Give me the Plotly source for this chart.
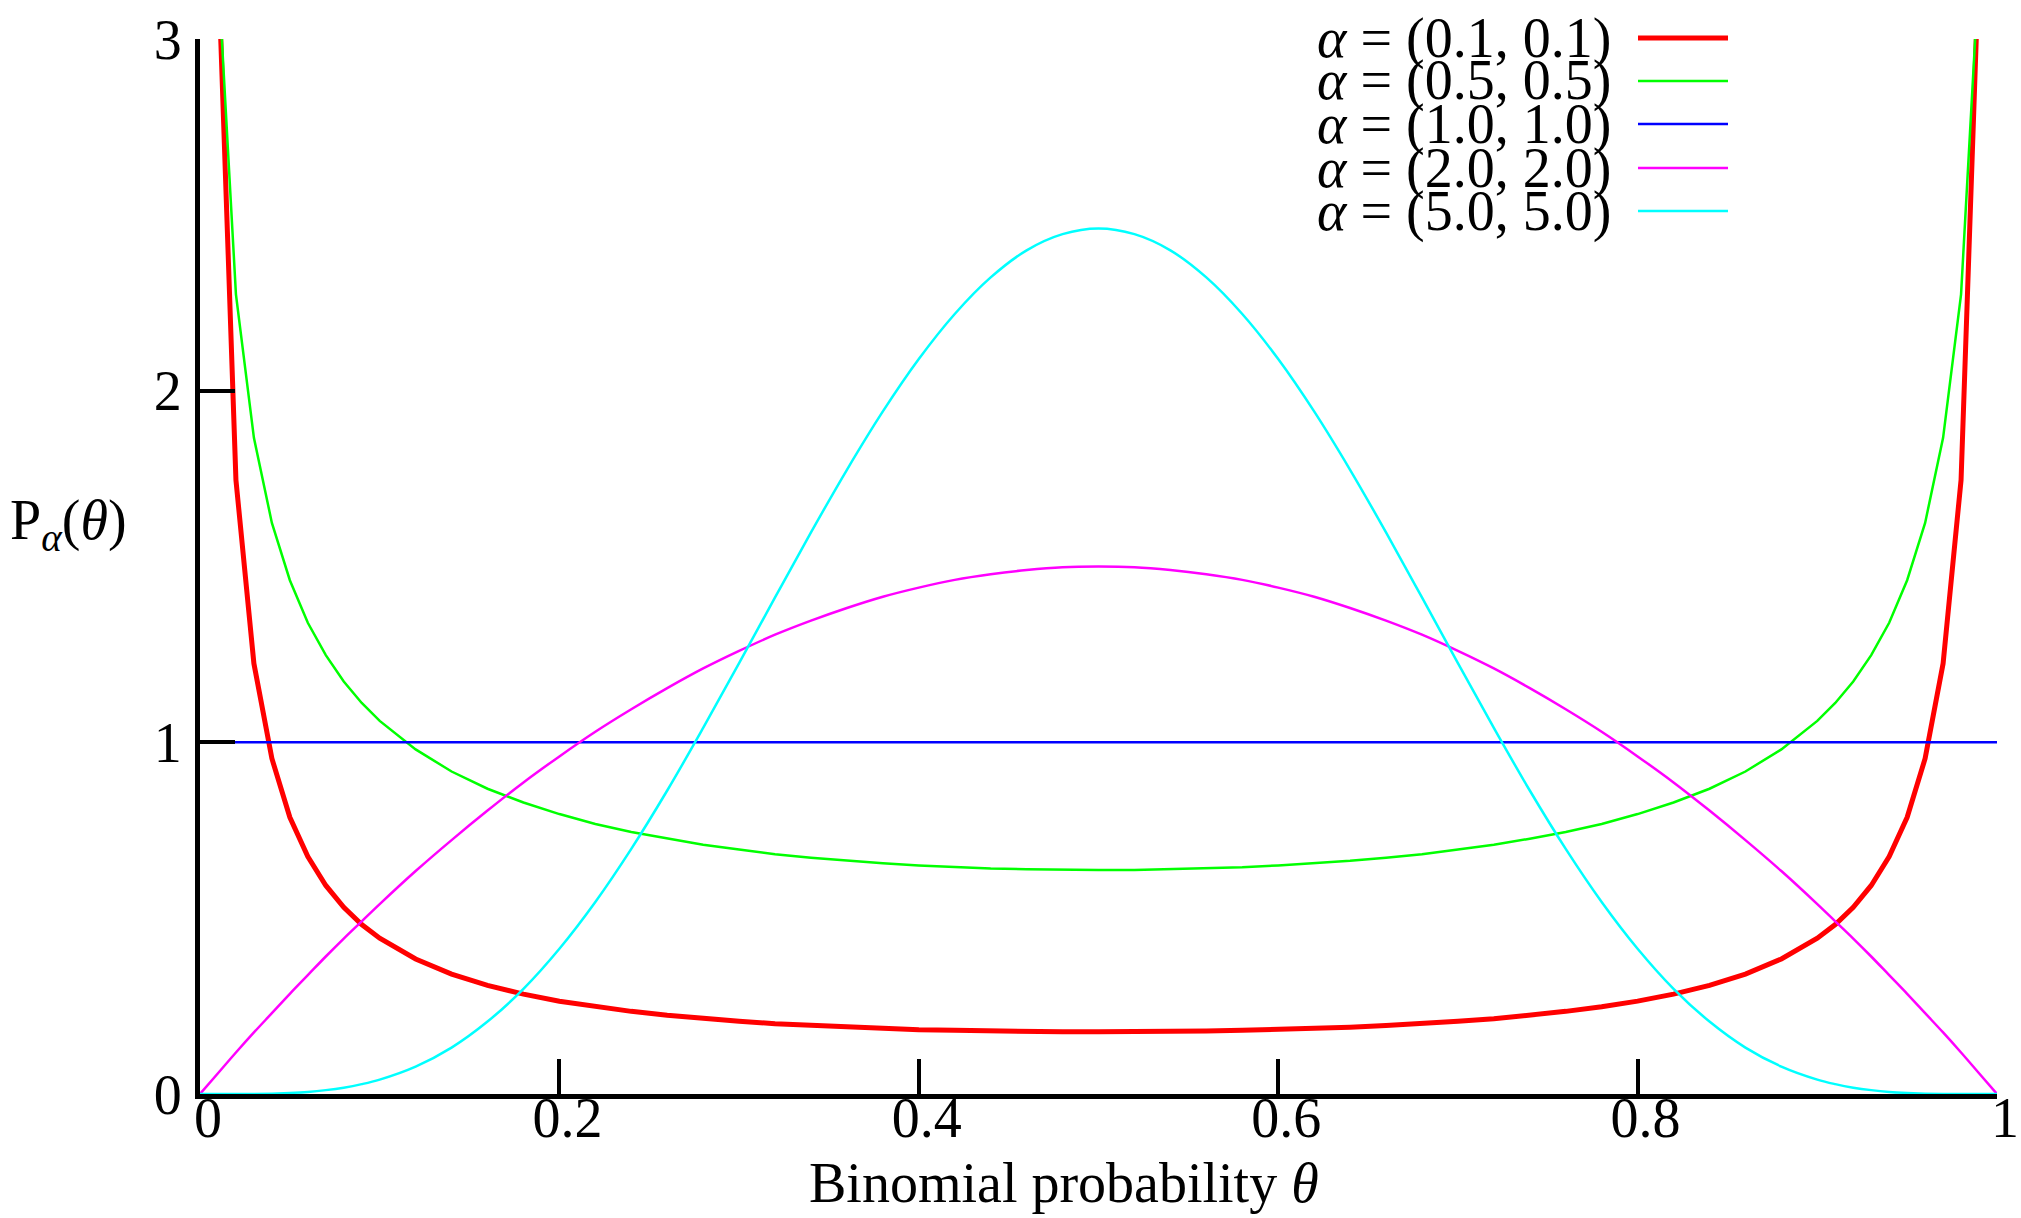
import plotly.graph_objects as go

# ---- data ----
theta = [0, 0.01, 0.02, 0.03, 0.04, 0.05, 0.06, 0.07, 0.08, 0.09, 0.10,
         0.12, 0.14, 0.16, 0.18, 0.20, 0.22, 0.24, 0.26, 0.28, 0.30,
         0.32, 0.34, 0.36, 0.38, 0.40, 0.42, 0.44, 0.46, 0.48, 0.50,
         0.52, 0.54, 0.56, 0.58, 0.60, 0.62, 0.64, 0.66, 0.68, 0.70,
         0.72, 0.74, 0.76, 0.78, 0.80, 0.82, 0.84, 0.86, 0.88, 0.90,
         0.91, 0.92, 0.93, 0.94, 0.95, 0.96, 0.97, 0.98, 0.99, 1.00]

p_01 = [None, 3.230, 1.746, 1.224, 0.954, 0.787, 0.675, 0.593, 0.531, 0.482, 0.443,
        0.384, 0.341, 0.309, 0.284, 0.264, 0.248, 0.235, 0.224, 0.214, 0.207,
        0.200, 0.195, 0.190, 0.186, 0.183, 0.181, 0.179, 0.178, 0.177, 0.177,
        0.177, 0.178, 0.179, 0.181, 0.183, 0.186, 0.190, 0.195, 0.200, 0.207,
        0.214, 0.224, 0.235, 0.248, 0.264, 0.284, 0.309, 0.341, 0.384, 0.443,
        0.482, 0.531, 0.593, 0.675, 0.787, 0.954, 1.224, 1.746, 3.230, None]

p_05 = [None, 3.199, 2.274, 1.866, 1.624, 1.461, 1.340, 1.248, 1.173, 1.112, 1.061,
        0.980, 0.917, 0.868, 0.829, 0.796, 0.768, 0.745, 0.726, 0.709, 0.695,
        0.682, 0.672, 0.663, 0.656, 0.650, 0.645, 0.641, 0.639, 0.637, 0.637,
        0.637, 0.639, 0.641, 0.645, 0.650, 0.656, 0.663, 0.672, 0.682, 0.695,
        0.709, 0.726, 0.745, 0.768, 0.796, 0.829, 0.868, 0.917, 0.980, 1.061,
        1.112, 1.173, 1.248, 1.340, 1.461, 1.624, 1.866, 2.274, 3.199, None]

theta_flat = [0, 1]
p_10 = [1.0, 1.0]

p_20 = [0, 0.059, 0.118, 0.175, 0.230, 0.285, 0.338, 0.391, 0.442, 0.491, 0.540,
        0.634, 0.722, 0.806, 0.886, 0.960, 1.030, 1.094, 1.154, 1.210, 1.260,
        1.306, 1.346, 1.382, 1.414, 1.440, 1.462, 1.478, 1.490, 1.498, 1.500,
        1.498, 1.490, 1.478, 1.462, 1.440, 1.414, 1.382, 1.346, 1.306, 1.260,
        1.210, 1.154, 1.094, 1.030, 0.960, 0.886, 0.806, 0.722, 0.634, 0.540,
        0.491, 0.442, 0.391, 0.338, 0.285, 0.230, 0.175, 0.118, 0.059, 0]

p_50 = [0, 0.000, 0.000, 0.000, 0.001, 0.003, 0.006, 0.011, 0.018, 0.028, 0.041,
        0.078, 0.132, 0.206, 0.299, 0.413, 0.546, 0.697, 0.863, 1.041, 1.225,
        1.412, 1.597, 1.775, 1.941, 2.090, 2.218, 2.322, 2.399, 2.445, 2.461,
        2.445, 2.399, 2.322, 2.218, 2.090, 1.941, 1.775, 1.597, 1.412, 1.225,
        1.041, 0.863, 0.697, 0.546, 0.413, 0.299, 0.206, 0.132, 0.078, 0.041,
        0.028, 0.018, 0.011, 0.006, 0.003, 0.001, 0.000, 0.000, 0.000, 0]

series_names = ["(0.1, 0.1)", "(0.5, 0.5)", "(1.0, 1.0)", "(2.0, 2.0)", "(5.0, 5.0)"]
series_colors = ["#ff0000", "#00ff00", "#0000ff", "#ff00ff", "#00ffff"]
series_widths = [5, 2.5, 2.5, 2.5, 2.5]
series_shapes = ["linear", "linear", "linear", "spline", "spline"]

x_tickvals = [0, 0.2, 0.4, 0.6, 0.8, 1.0]
x_ticktext = ["0", "0.2", "0.4", "0.6", "0.8", "1"]
y_tickvals = [0, 1, 2, 3]
y_ticktext = ["0", "1", "2", "3"]

# ---- figure ----
W, H = 2021, 1218
ML, MR, MT, MB = 200, 24, 39, 124
FONT = "Liberation Serif"
FS = 56

xs = [theta, theta, theta_flat, theta, theta]
ys = [p_01, p_05, p_10, p_20, p_50]

fig = go.Figure()
for x, y, name, col, w, shp in zip(xs, ys, series_names, series_colors,
                                   series_widths, series_shapes):
    fig.add_trace(go.Scatter(x=x, y=y, mode="lines", name=name,
                             line=dict(color=col, width=w, shape=shp),
                             showlegend=False, hoverinfo="skip"))

axis_common = dict(showline=True, linewidth=5, linecolor="black",
                   ticks="inside", ticklen=35, tickwidth=4, tickcolor="black",
                   showgrid=False, zeroline=False, mirror=False, automargin=False,
                   tickfont=dict(family=FONT, size=FS, color="black"))

fig.update_xaxes(range=[0, 1], tickvals=x_tickvals, ticktext=x_ticktext,
                 ticklabelshift=8, ticklabelstandoff=-29, **axis_common)
fig.update_yaxes(range=[0, 3], tickvals=y_tickvals, ticktext=y_ticktext,
                 ticklabelstandoff=2, **axis_common)

plot_w = W - ML - MR
plot_h = H - MT - MB


def px_x(px):
    return (px - ML) / plot_w


def px_y(py):
    return (H - MB - py) / plot_h


annotations = []
shapes = []
row_y = [38, 81, 124, 168, 211]
for name, col, w, ry in zip(series_names, series_colors, series_widths, row_y):
    annotations.append(dict(text="<i>α</i> = " + name, x=px_x(1613), y=px_y(ry),
                            xref="paper", yref="paper", xanchor="right", yanchor="middle",
                            showarrow=False, font=dict(family=FONT, size=FS, color="black")))
    shapes.append(dict(type="line", xref="paper", yref="paper",
                       x0=px_x(1638), x1=px_x(1728), y0=px_y(ry), y1=px_y(ry),
                       line=dict(color=col, width=w)))

annotations.append(dict(text="Binomial probability <i>θ</i>", x=px_x(1064), y=px_y(1183),
                        xref="paper", yref="paper", xanchor="center", yanchor="middle",
                        showarrow=False, font=dict(family=FONT, size=FS, color="black")))
annotations.append(dict(text="P<sub><i>α</i></sub>(<i>θ</i>)", x=px_x(8), y=px_y(524),
                        xref="paper", yref="paper", xanchor="left", yanchor="middle",
                        showarrow=False, font=dict(family=FONT, size=FS, color="black")))

fig.update_layout(width=W, height=H,
                  margin=dict(l=ML, r=MR, t=MT, b=MB, pad=0, autoexpand=False),
                  paper_bgcolor="white", plot_bgcolor="white",
                  showlegend=False,
                  annotations=annotations, shapes=shapes,
                  font=dict(family=FONT, size=FS, color="black"))

fig.write_html("out.html",
               config={"displayModeBar": False},
               post_script="document.body.style.margin='0';"
                           "document.body.style.overflow='hidden';")
